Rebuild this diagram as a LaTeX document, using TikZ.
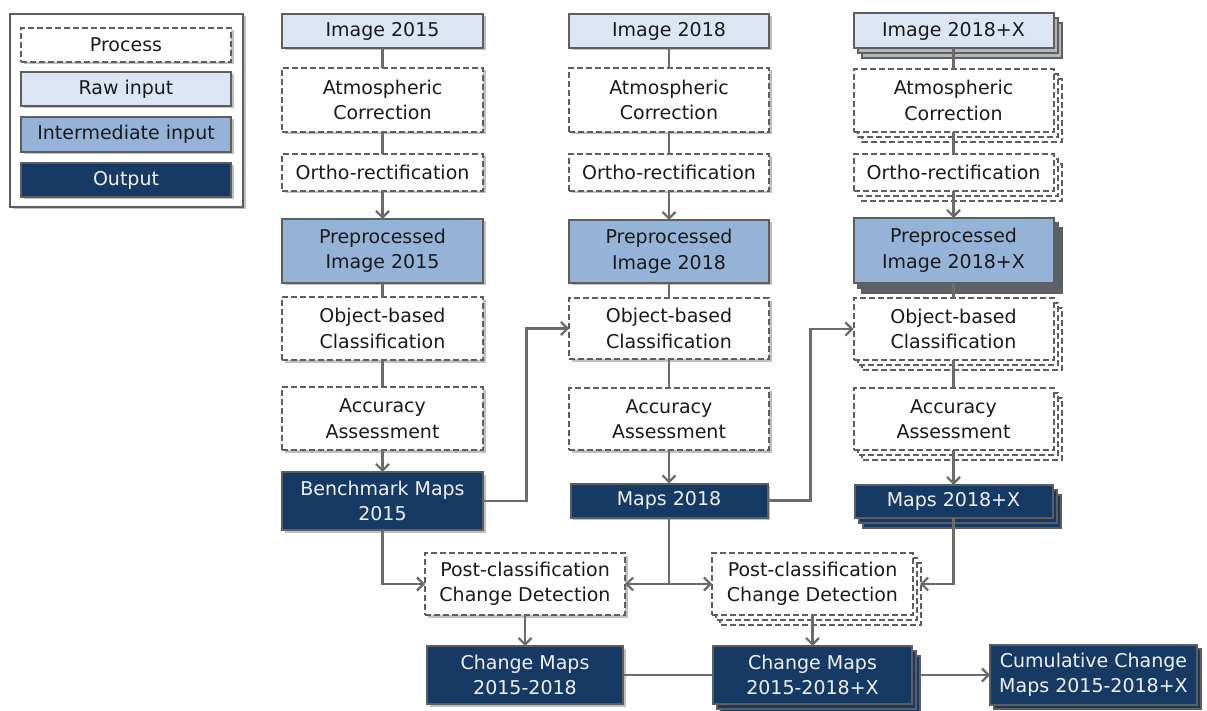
\documentclass[tikz,border=0pt]{standalone}
\usepackage{fontspec}
\setmainfont{DejaVu Sans}
\usetikzlibrary{arrows.meta,shadows,backgrounds,calc}
\definecolor{rawc}{HTML}{DCE6F2}
\definecolor{midc}{HTML}{95B3D7}
\definecolor{outc}{HTML}{173A64}
\definecolor{bordc}{HTML}{5E5E5E}
\definecolor{linec}{HTML}{6B6B6B}
\definecolor{txtc}{HTML}{1A1A1A}
\definecolor{wtxt}{HTML}{EEF2F8}
\newcommand\stk[2]{%
  \begin{scope}[on background layer]
    \draw[#2] ([shift={(8,10)}]#1.north west) rectangle ([shift={(8,10)}]#1.south east);
    \draw[#2] ([shift={(4,5)}]#1.north west) rectangle ([shift={(4,5)}]#1.south east);
  \end{scope}}
\newcommand\stkone[2]{%
  \begin{scope}[on background layer]
    \draw[#2] ([shift={(4,4)}]#1.north west) rectangle ([shift={(4,4)}]#1.south east);
  \end{scope}}
\begin{document}
\begin{tikzpicture}[x=1pt,y=-1pt,
  box/.style={draw=bordc, line width=2pt, align=center, inner sep=0pt, outer sep=0pt,
    font=\fontsize{19}{25.5}\selectfont, text=txtc},
  procbox/.style={box, fill=white, dash pattern=on 6pt off 3pt},
  rawbox/.style={box, fill=rawc},
  midbox/.style={box, fill=midc},
  outbox/.style={box, fill=outc, text=wtxt},
  shd/.style={drop shadow={shadow xshift=2.5pt, shadow yshift=-2.5pt, opacity=.25, fill=black}},
  bproc/.style={draw=bordc, line width=2pt, dash pattern=on 6pt off 3pt, fill=white},
  braw/.style={draw=bordc, line width=2pt, fill=rawc!55!gray},
  bmid/.style={draw=bordc, line width=2pt, fill=midc!30!darkgray},
  bout/.style={draw=bordc, line width=2pt, fill=outc},
  conn/.style={draw=linec, line width=2.2pt},
  arr/.style={conn, -{Straight Barb[length=6.5pt,width=13pt]}},
  legbox/.style={draw=bordc, line width=1.8pt, fill=white},
]
\begin{scope}[on background layer]
  \fill[white] (0,0) rectangle (1207,711);
\end{scope}
\useasboundingbox (0,0) rectangle (1207,711);

% legend
\node[legbox, shd, minimum width=233, minimum height=193, outer sep=0pt] (legend) at (126.5,110.5) {};
\node[procbox, shd, minimum width=210, minimum height=34] (lp) at (126,45) {Process};
\node[rawbox, shd, minimum width=210, minimum height=34] (lr) at (126,89) {Raw input};
\node[midbox, shd, minimum width=210, minimum height=35] (lm) at (126,134.5) {Intermediate input};
\node[outbox, shd, minimum width=210, minimum height=34] (lo) at (126,180) {Output};

% column 1
\node[rawbox, shd, minimum width=201, minimum height=34] (i1) at (382.5,31) {Image 2015};
\node[procbox, shd, minimum width=201, minimum height=64] (a1) at (382.5,100) {Atmospheric\\Correction};
\node[procbox, shd, minimum width=201, minimum height=37] (o1) at (382.5,172.5) {Ortho-rectification};
\node[midbox, shd, minimum width=201, minimum height=64] (p1) at (382.5,251) {Preprocessed\\Image 2015};
\node[procbox, shd, minimum width=201, minimum height=63] (c1) at (382.5,328.5) {Object-based\\Classification};
\node[procbox, shd, minimum width=201, minimum height=63] (q1) at (382.5,418.5) {Accuracy\\Assessment};
\node[outbox, shd, minimum width=201, minimum height=58] (m1) at (382.5,501) {Benchmark Maps\\2015};

% column 2
\node[rawbox, shd, minimum width=200, minimum height=34] (i2) at (669,31) {Image 2018};
\node[procbox, shd, minimum width=200, minimum height=64] (a2) at (669,100) {Atmospheric\\Correction};
\node[procbox, shd, minimum width=200, minimum height=37] (o2) at (669,172.5) {Ortho-rectification};
\node[midbox, shd, minimum width=200, minimum height=63] (p2) at (669,251.5) {Preprocessed\\Image 2018};
\node[procbox, shd, minimum width=200, minimum height=61] (c2) at (669,328.5) {Object-based\\Classification};
\node[procbox, shd, minimum width=200, minimum height=62] (q2) at (669,419) {Accuracy\\Assessment};
\node[outbox, shd, minimum width=197, minimum height=34] (m2) at (669,500.5) {Maps 2018};

% column 3 (stacked)
\node[rawbox, minimum width=200, minimum height=35] (i3) at (953.5,31) {Image 2018+X};
\node[procbox, minimum width=200, minimum height=63] (a3) at (953.5,100.5) {Atmospheric\\Correction};
\node[procbox, minimum width=200, minimum height=37] (o3) at (953.5,172.5) {Ortho-rectification};
\node[midbox, minimum width=200, minimum height=65] (p3) at (953.5,250.5) {Preprocessed\\Image 2018+X};
\node[procbox, minimum width=200, minimum height=62] (c3) at (953.5,329) {Object-based\\Classification};
\node[procbox, minimum width=200, minimum height=62] (q3) at (953.5,419) {Accuracy\\Assessment};
\node[outbox, minimum width=198, minimum height=33] (m3) at (953.5,501.5) {Maps 2018+X};
\stk{i3}{braw}
\stk{a3}{bproc}
\stk{o3}{bproc}
\stk{p3}{bmid}
\stk{c3}{bproc}
\stk{q3}{bproc}
\stk{m3}{bout}

% change detection
\node[procbox, shd, minimum width=200, minimum height=62] (d1) at (525,584) {Post-classification\\Change Detection};
\node[procbox, minimum width=201, minimum height=62] (d2) at (812.5,584) {Post-classification\\Change Detection};
\stk{d2}{bproc}
\node[outbox, shd, minimum width=196, minimum height=58] (e1) at (525,675) {Change Maps\\2015-2018};
\node[outbox, minimum width=199, minimum height=58] (e2) at (812.5,675) {Change Maps\\2015-2018+X};
\stk{e2}{bout}
\node[outbox, minimum width=207, minimum height=60] (f) at (1093.5,675) {Cumulative Change\\Maps 2015-2018+X};
\stkone{f}{bout}

% column connectors
\foreach \k in {1,2,3}{
  \draw[conn] (i\k.south) -- (a\k.north);
  \draw[conn] (a\k.south) -- (o\k.north);
  \draw[arr] (o\k.south) -- (p\k.north);
  \draw[conn] (p\k.south) -- (c\k.north);
  \draw[conn] (c\k.south) -- (q\k.north);
  \draw[arr] (q\k.south) -- (m\k.north);
}
% cross connectors
\draw[arr] (m1.east) -- ++(43.5,0) |- (c2.west);
\draw[arr] (m2.east) -- ++(43,0) |- (c3.west);
\draw[arr] (m1.south) |- (d1.west);
\coordinate (j) at (m2.south |- d1.east);
\draw[conn] (m2.south) -- (j);
\draw[arr] (j) -- (d1.east);
\draw[arr] (j) -- (d2.west);
\draw[arr] (m3.south) |- ([xshift=7]d2.east);
\draw[arr] (d1.south) -- (e1.north);
\draw[arr] (d2.south) -- (e2.north);
\draw[conn] (e1.east) -- (e2.west);
\draw[arr] ([xshift=7]e2.east) -- (f.west);
\end{tikzpicture}
\end{document}
